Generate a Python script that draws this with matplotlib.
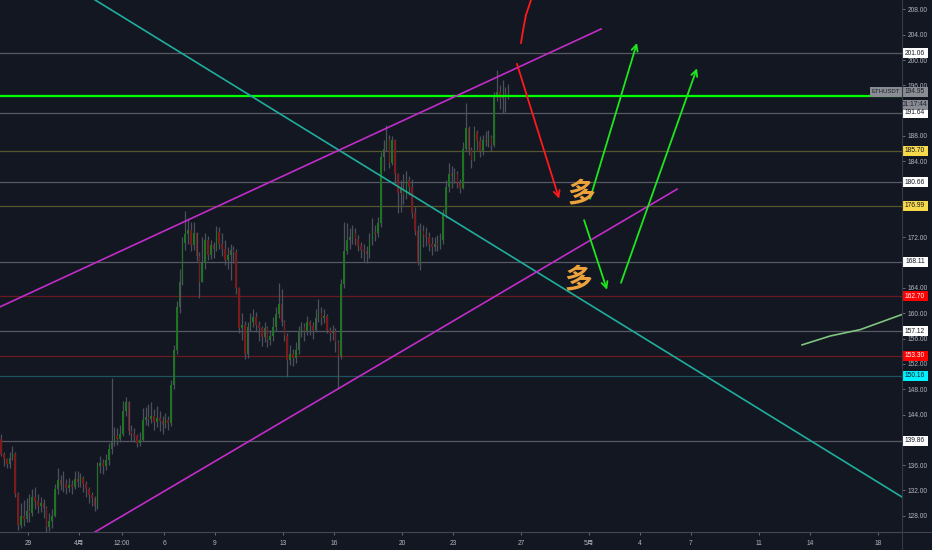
import numpy as np
import matplotlib
matplotlib.use("Agg")
import matplotlib.pyplot as plt
from matplotlib.patches import Rectangle
from matplotlib.lines import Line2D
from matplotlib.transforms import blended_transform_factory

plt.rcParams['font.family'] = ['Liberation Sans', 'Noto Sans CJK SC', 'DejaVu Sans']

# ---------------- ETHUSDT 4h bars (time in days from 1 April) ----------------
FIRST_BAR = -4.583          # centre of the first visible bar
BARS_PER_DAY = 6
FIRST_OPEN = 140.2

close = np.array([
    137.8, 137.0, 136.2, 137.2, 137.8, 131.4, 126.5, 128.0, 127.5, 128.8,
    128.5, 131.0, 130.3, 129.5, 130.0, 129.2, 126.2, 127.2, 128.0, 132.3,
    133.6, 132.8, 133.1, 132.4, 132.8, 132.6, 133.8, 133.4, 133.9, 133.0,
    132.2, 131.3, 130.8, 129.6, 135.8, 136.4, 135.8, 136.8, 138.6, 139.6,
    140.6, 140.2, 141.0, 144.6, 146.0, 141.4, 141.0, 140.6, 139.5, 140.0,
    143.2, 143.6, 143.3, 143.8, 142.8, 143.4, 142.9, 142.4, 143.2, 142.6,
    148.6, 154.2, 161.0, 165.0, 171.1, 172.5, 173.2, 170.8, 172.6, 169.0,
    165.0, 168.0, 171.5, 169.2, 170.8, 170.2, 172.8, 171.0, 170.2, 168.4,
    169.2, 170.0, 169.6, 164.0, 157.6, 158.2, 153.6, 157.8, 158.6, 159.4,
    158.2, 157.6, 156.2, 157.6, 155.8, 156.4, 157.8, 159.8, 161.4, 158.6,
    156.4, 152.6, 153.6, 153.0, 154.2, 157.2, 157.8, 157.2, 158.6, 158.0,
    157.4, 159.2, 160.0, 159.2, 159.6, 157.4, 156.8, 157.2, 155.4, 153.2,
    164.6, 169.8, 171.6, 172.0, 172.6, 171.8, 170.6, 170.0, 169.8, 169.4,
    171.4, 172.8, 172.6, 174.2, 184.6, 186.0, 187.6, 183.8, 187.4, 182.0,
    179.0, 179.6, 178.6, 181.0, 180.0, 175.8, 173.0, 168.0, 173.0, 172.4,
    172.0, 171.0, 170.4, 171.0, 170.8, 171.6, 175.6, 180.0, 182.0, 181.6,
    182.0, 180.6, 179.8, 186.0, 189.2, 185.8, 184.2, 188.6, 187.2, 185.6,
    187.4, 187.2, 187.8, 186.6, 194.4, 195.0, 194.0, 194.4, 194.6, 194.95,
])

high = np.array([
    141.0, 138.0, 137.2, 138.0, 139.0, 138.0, 131.8, 130.0, 130.5, 130.8,
    131.5, 132.2, 132.5, 131.5, 131.0, 130.6, 129.5, 128.5, 129.0, 133.0,
    135.5, 134.5, 135.0, 133.8, 134.0, 133.6, 135.0, 135.0, 134.8, 134.3,
    133.5, 132.6, 131.8, 131.2, 136.5, 137.5, 137.0, 137.8, 139.5, 149.8,
    142.0, 141.8, 142.4, 146.2, 146.8, 146.2, 142.4, 141.8, 141.0, 141.2,
    145.0, 145.2, 145.6, 146.0, 144.8, 145.4, 144.6, 143.8, 144.2, 143.8,
    149.5, 155.0, 162.0, 167.0, 172.0, 176.2, 175.0, 174.4, 174.4, 172.8,
    169.6, 172.0, 172.6, 172.2, 171.6, 171.2, 173.8, 173.6, 172.6, 171.6,
    170.4, 171.0, 170.6, 170.2, 164.2, 160.0, 158.8, 158.6, 160.0, 160.6,
    160.2, 158.8, 158.0, 158.6, 158.0, 157.4, 159.4, 161.0, 164.8, 163.8,
    159.0, 156.8, 155.0, 154.4, 155.4, 158.0, 158.6, 158.4, 159.6, 159.0,
    158.6, 160.6, 162.2, 161.0, 160.6, 159.8, 157.8, 158.2, 157.6, 155.8,
    165.4, 174.4, 174.2, 173.4, 174.0, 173.4, 172.4, 171.2, 171.0, 170.6,
    172.6, 175.0, 174.0, 175.2, 185.4, 187.4, 189.7, 188.2, 188.0, 187.6,
    182.2, 181.0, 182.0, 182.4, 181.6, 181.2, 176.8, 174.0, 174.2, 174.0,
    173.6, 172.8, 172.0, 172.0, 172.4, 172.6, 176.4, 181.0, 183.8, 183.2,
    183.0, 182.4, 181.2, 187.0, 193.2, 189.6, 186.2, 189.6, 189.0, 188.0,
    188.2, 188.8, 189.0, 188.2, 195.0, 198.4, 196.0, 196.8, 195.8, 196.2,
])

low = np.array([
    137.5, 135.8, 135.5, 135.6, 136.8, 131.0, 125.8, 126.0, 126.4, 127.0,
    127.0, 128.0, 129.0, 128.5, 128.6, 127.6, 125.5, 125.6, 126.0, 127.8,
    131.5, 132.0, 131.8, 131.5, 131.8, 131.4, 132.2, 132.5, 132.6, 131.8,
    131.0, 130.0, 129.6, 128.8, 129.0, 134.8, 134.6, 135.2, 136.0, 137.8,
    139.0, 139.2, 139.6, 140.6, 143.8, 140.8, 139.8, 139.6, 138.8, 139.0,
    139.8, 142.4, 142.2, 142.6, 141.6, 142.0, 141.4, 141.0, 141.8, 141.6,
    142.2, 148.0, 153.5, 160.0, 164.5, 170.0, 171.0, 169.8, 170.0, 168.2,
    162.4, 165.0, 167.0, 168.4, 168.6, 168.8, 169.8, 170.2, 169.0, 167.6,
    167.0, 165.3, 168.0, 163.0, 156.8, 155.8, 152.8, 153.0, 157.2, 157.8,
    157.0, 155.6, 154.8, 155.4, 154.6, 155.0, 155.6, 157.2, 159.2, 158.0,
    155.6, 149.9, 151.8, 151.6, 152.2, 153.6, 156.2, 155.6, 156.6, 156.6,
    156.0, 157.0, 158.6, 158.2, 158.4, 156.8, 155.6, 155.8, 153.8, 148.0,
    152.8, 164.0, 169.4, 170.2, 171.0, 170.8, 169.8, 168.8, 168.1, 168.0,
    168.8, 170.8, 171.4, 172.0, 173.6, 182.4, 185.6, 183.0, 183.4, 180.4,
    175.8, 176.0, 177.2, 178.0, 178.6, 175.0, 172.4, 167.6, 166.8, 170.4,
    170.6, 169.8, 169.2, 169.8, 169.8, 170.2, 171.0, 175.0, 179.2, 179.8,
    180.6, 179.8, 179.0, 179.6, 185.6, 185.0, 183.0, 184.0, 185.8, 184.6,
    185.0, 186.4, 186.2, 185.6, 186.2, 193.6, 192.2, 191.6, 191.8, 193.8,
])

LAST_PRICE = 194.95
COUNTDOWN = "01:17:44"
SYMBOL = "ETHUSDT"
GREEN_LEVEL = 194.25

# horizontal price levels and their style class
LEVELS = [201.06, 191.64, 185.70, 180.66, 176.99, 168.11, 162.70, 157.12, 153.30, 150.16, 139.86]
LEVEL_KINDS = ['plain', 'plain', 'yellow', 'plain', 'yellow', 'plain', 'red', 'plain', 'red', 'cyan', 'plain']

# x-axis labels (days from 1 April)
X_TICK_POS = [-3, 0, 2.5, 5, 8, 12, 15, 19, 22, 26, 30, 33, 36, 40, 43, 47]
X_TICK_LABELS = ['29', '4月', '12:00', '6', '9', '13', '16', '20', '23', '27', '5月', '4', '7', '11', '14', '18']
Y_TICKS = np.arange(128, 209, 4)

# hand-drawn trend lines (day, price)
TEAL_LINE = [(0.94, 209.5), (48.41, 130.97)]
UPPER_CHANNEL = [(-4.65, 161.0), (30.71, 204.9)]
LOWER_CHANNEL = [(0.94, 125.44), (35.18, 179.6)]
RED_ARC = [(26.00, 202.7), (26.12, 204.7), (26.29, 207.1), (26.59, 209.5)]
RED_ARROW = [(25.76, 199.4), (28.24, 178.1)]
GREEN_ARROWS = [
    [(30.06, 178.1), (32.82, 202.7)],
    [(31.88, 164.8), (36.35, 198.7)],
    [(29.71, 174.7), (31.06, 163.7)],
]
PALE_CURVE = [(42.53, 155.0), (44.18, 156.4), (45.94, 157.4), (48.41, 159.8)]
DUO_MARKS = [(29.53, 179.0), (29.35, 165.3)]

# ---------------- styling ----------------
BG = '#131722'
WICK = '#4c505b'
UP = '#1f7424'
DOWN = '#7c1a1c'
AXIS_TXT = '#b2b5be'
LEVEL_COLORS = {'plain': '#575a64', 'yellow': '#57552e', 'red': '#6a1b1f', 'cyan': '#1b565e'}
BOX_FACE = {'plain': '#ffffff', 'yellow': '#f7d94c', 'red': '#ff0000', 'cyan': '#00f0ff'}
BOX_TEXT = {'plain': '#131722', 'yellow': '#131722', 'red': '#ffffff', 'cyan': '#131722'}

fig = plt.figure(figsize=(9.32, 5.5), dpi=100, facecolor=BG)
ax = fig.add_axes([0, 18 / 550, 902 / 932, 532 / 550], facecolor=BG)
ax.set_xlim(-4.647, 48.41)
ax.set_ylim(125.44, 209.48)

# candles
t = FIRST_BAR + np.arange(len(close)) / BARS_PER_DAY
opn = np.r_[FIRST_OPEN, close[:-1]]
rising = close >= opn
ax.vlines(t, low, high, color=WICK, lw=0.9, zorder=2)
ax.bar(t, np.maximum(np.abs(close - opn), 0.15), bottom=np.minimum(opn, close),
       width=0.09, color=np.where(rising, UP, DOWN), edgecolor='none', zorder=3)

# price levels
for lv, kind in zip(LEVELS, LEVEL_KINDS):
    ax.axhline(lv, color=LEVEL_COLORS[kind], lw=0.9, zorder=1)
ax.axhline(GREEN_LEVEL, color='#00ff00', lw=1.6, zorder=4)

# drawings
def seg(points, **kw):
    xs, ys = zip(*points)
    ax.plot(xs, ys, **kw)

seg(TEAL_LINE, color='#1fae9c', lw=1.2, zorder=5)
seg(UPPER_CHANNEL, color='#c22cc8', lw=1.2, zorder=5)
seg(LOWER_CHANNEL, color='#c22cc8', lw=1.2, zorder=5)
seg(RED_ARC, color='#ff1a1a', lw=1.3, zorder=6)
seg(PALE_CURVE, color='#7fc57f', lw=1.2, zorder=5)

def arrow(points, color):
    (x0, y0), (x1, y1) = points
    ax.annotate('', xy=(x1, y1), xytext=(x0, y0),
                arrowprops=dict(arrowstyle='->', color=color, lw=1.3,
                                mutation_scale=11, shrinkA=0, shrinkB=0),
                zorder=6)

arrow(RED_ARROW, '#ff1a1a')
for a in GREEN_ARROWS:
    arrow(a, '#1ee61e')

for x, y in DUO_MARKS:
    ax.text(x, y, '多', color='#eda33c', fontsize=20, fontweight='bold',
            family=['Noto Sans CJK SC'], ha='center', va='center', zorder=7)

# price scale: skip the round-number labels that sit under a price tag
tag_prices = LEVELS + [LAST_PRICE, LAST_PRICE - 13 / 6.33]
shown = [v for v in Y_TICKS if min(abs(v - p) for p in tag_prices) > 1.0]

for s in ['top', 'left']:
    ax.spines[s].set_visible(False)
ax.spines['right'].set_color('#363a45')
ax.spines['bottom'].set_color('#434651')
ax.yaxis.tick_right()
ax.set_yticks(shown)
ax.set_yticklabels([f'{v:.2f}' for v in shown])
ax.set_xticks(X_TICK_POS)
ax.set_xticklabels(X_TICK_LABELS)
ax.tick_params(axis='y', colors='#787b86', labelcolor=AXIS_TXT, labelsize=4.8,
               length=2.5, width=0.6, pad=1.5)
ax.tick_params(axis='x', colors='#787b86', labelcolor=AXIS_TXT, labelsize=4.8,
               length=2.5, width=0.6, pad=3.5)

# axis frame lines that run through the scale areas
fig.add_artist(Line2D([0, 1], [18 / 550, 18 / 550], color='#434651', lw=0.8))
fig.add_artist(Line2D([902 / 932, 902 / 932], [0, 1], color='#363a45', lw=0.8))

# price tags on the scale
tr = blended_transform_factory(ax.transAxes, ax.transData)
BOX_W = 26 / 902
BOX_H = 10 / 6.33

def tag(x0, width, price, text, face, color, yc=None, size=4.8):
    yc = price if yc is None else yc
    ax.add_patch(Rectangle((x0, yc - BOX_H / 2), width, BOX_H, transform=tr,
                           facecolor=face, edgecolor='none', clip_on=False, zorder=20))
    ax.text(x0 + width / 2, yc, text, transform=tr, ha='center', va='center',
            fontsize=size, color=color, clip_on=False, zorder=21)

for lv, kind in zip(LEVELS, LEVEL_KINDS):
    tag(1.0, BOX_W, lv, f'{lv:.2f}', BOX_FACE[kind], BOX_TEXT[kind])

tag(1.0, BOX_W, LAST_PRICE, f'{LAST_PRICE:.2f}', '#8a8c93', '#1b1f2a')
tag(1.0, BOX_W, LAST_PRICE, COUNTDOWN, '#8a8c93', '#1b1f2a', yc=LAST_PRICE - 13 / 6.33)
tag(1.0 - 32 / 902, 32 / 902, LAST_PRICE, SYMBOL, '#8a8c93', '#1b1f2a', size=4.3)

fig.savefig('out.png', dpi=100, facecolor=BG)
